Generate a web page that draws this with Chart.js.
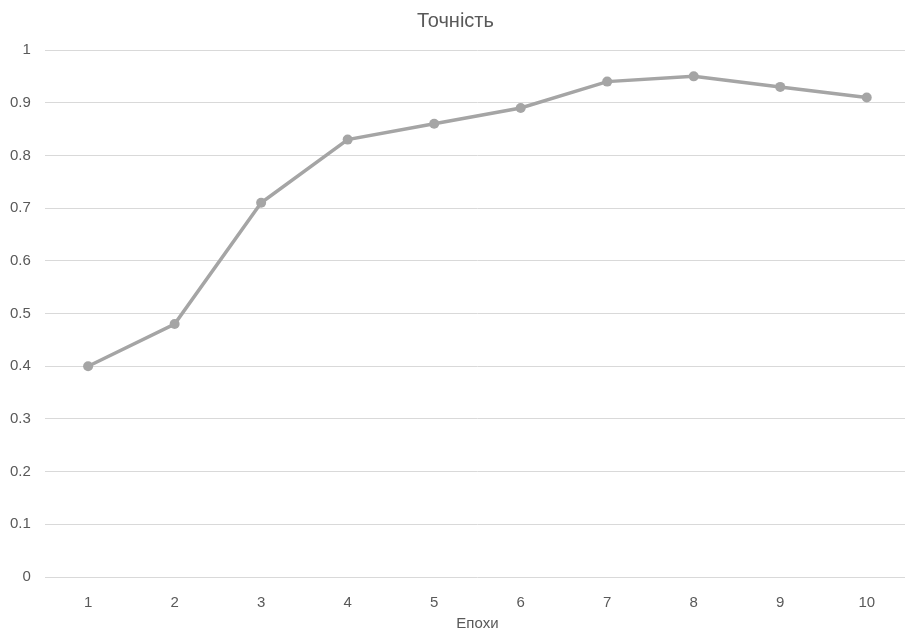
<!DOCTYPE html>
<html>
<head>
<meta charset="utf-8">
<script src="https://cdn.jsdelivr.net/npm/chart.js@4/dist/chart.umd.min.js"></script>
<style>
  html, body { margin: 0; padding: 0; background: #fff; overflow: hidden; }
  canvas { display: block; }
</style>
</head>
<body>
<canvas id="c" width="915" height="635"></canvas>
<script>
// Accuracy per training epoch
const epochs = ['1', '2', '3', '4', '5', '6', '7', '8', '9', '10'];
const accuracy = [0.40, 0.48, 0.71, 0.83, 0.86, 0.89, 0.94, 0.95, 0.93, 0.91];
const chartTitle = 'Точність';
const xTitle = 'Епохи';

const textColor = '#595959';
const fontFamily = '"Liberation Sans", Arial, sans-serif';

new Chart(document.getElementById('c'), {
  type: 'line',
  data: {
    labels: epochs,
    datasets: [{
      data: accuracy,
      borderColor: '#a5a5a5',
      backgroundColor: '#a5a5a5',
      borderWidth: 3.5,
      pointRadius: 5,
      pointHoverRadius: 5,
      pointBorderWidth: 0,
      tension: 0,
      fill: false
    }]
  },
  options: {
    responsive: false,
    animation: false,
    layout: { padding: { left: -4, right: 0, top: 0, bottom: 2 } },
    plugins: {
      legend: { display: false },
      tooltip: { enabled: false },
      title: {
        display: true,
        text: chartTitle,
        color: textColor,
        font: { family: fontFamily, size: 20, weight: 'normal' },
        padding: { top: 9, bottom: 17 }
      }
    },
    scales: {
      x: {
        offset: true,
        grid: { display: false, drawTicks: false },
        border: { display: false },
        ticks: {
          color: textColor,
          font: { family: fontFamily, size: 15 },
          padding: 17
        },
        title: {
          display: true,
          text: xTitle,
          color: textColor,
          font: { family: fontFamily, size: 15 },
          padding: { top: -14, bottom: 0 }
        }
      },
      y: {
        min: 0,
        max: 1,
        grid: { color: '#d9d9d9', lineWidth: 1, drawTicks: false },
        border: { display: false },
        ticks: {
          stepSize: 0.1,
          color: textColor,
          font: { family: fontFamily, size: 15 },
          padding: 14,
          callback: v => Math.round(v * 10) / 10
        }
      }
    }
  }
});
</script>
</body>
</html>
